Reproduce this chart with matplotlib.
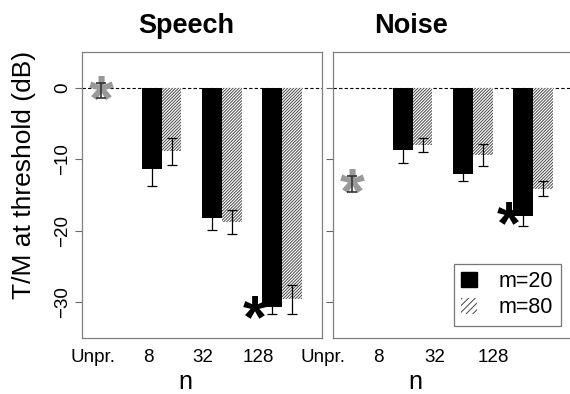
import numpy as np
import matplotlib.pyplot as plt
from matplotlib.patches import Patch

plt.rcParams['font.family'] = ['Liberation Sans', 'DejaVu Sans']
plt.rcParams['hatch.linewidth'] = 0.7

# data
groups = ['Unpr.', '8', '32', '128']
panels = ['Speech', 'Noise']

unpr_mean = [-0.4, -13.5]
unpr_err = [1.1, 1.1]

m20_mean = {'Speech': [-11.4, -18.25, -30.7], 'Noise': [-8.7, -12.1, -18.0]}
m20_err = {'Speech': [2.4, 1.65, 0.9], 'Noise': [1.8, 1.0, 1.3]}
m80_mean = {'Speech': [-8.9, -18.8, -29.6], 'Noise': [-8.0, -9.4, -14.1]}
m80_err = {'Speech': [1.9, 1.7, 2.0], 'Noise': [1.0, 1.6, 1.0]}

sig_x = [2.55, 2.59]
sig_y = [-31.0, -17.9]

yticks = [0, -10, -20, -30]

fig = plt.figure(figsize=(5.7, 3.94), dpi=100)
W, H = 570, 394

def fx(px):
    return px / W

def fy(py):
    return 1 - py / H

ax_left = [82, 333]
label_px = [[93, 148, 203, 258], [323, 378, 435, 493]]
title_px = [186, 411]
n_px = [185, 415]

w = 0.33
pos = np.arange(1, 4)

def star(ax, x, y, color, size):
    # the '*' glyph sits high in its box, push it down onto the point
    ax.annotate('*', (x, y), xytext=(0, -0.2 * size), textcoords='offset points',
                color=color, fontsize=size, fontweight='bold',
                ha='center', va='center', zorder=3)

for k, name in enumerate(panels):
    ax = fig.add_axes([fx(ax_left[k]), fy(338), 240 / W, 286 / H])
    ax.set_xlim(-0.32, 3.66)
    ax.set_ylim(-35, 5)
    ax.axhline(0, color='black', lw=0.8, ls=(0, (3, 2)), zorder=1)

    ax.bar(pos - w / 2, m20_mean[name], w, color='black', zorder=2)
    ax.bar(pos + w / 2, m80_mean[name], w, color='white', edgecolor='#4a4a4a',
           hatch='///////////', linewidth=0, zorder=2)
    ax.errorbar(pos - w / 2, m20_mean[name], yerr=m20_err[name], fmt='none',
                ecolor='black', elinewidth=0.9, capsize=3.5, capthick=0.9, zorder=3)
    ax.errorbar(pos + w / 2, m80_mean[name], yerr=m80_err[name], fmt='none',
                ecolor='black', elinewidth=0.9, capsize=3.5, capthick=0.9, zorder=3)

    # unprocessed reference
    star(ax, 0, unpr_mean[k], '#999999', 46)
    ax.errorbar([0], [unpr_mean[k]], yerr=[unpr_err[k]], fmt='none',
                ecolor='#333333', elinewidth=1.2, capsize=3.5, capthick=1.2, zorder=4)

    star(ax, sig_x[k], sig_y[k], 'black', 44)

    ax.set_xticks([])
    ax.set_yticks(yticks)
    ax.tick_params(axis='y', length=5, width=0.8, color='#666666', pad=3,
                   labelsize=13.5, labelrotation=90)
    for t in ax.get_yticklabels():
        t.set_va('center')
    if k == 1:
        ax.set_yticklabels([])
    for s in ax.spines.values():
        s.set_color('#808080')
        s.set_linewidth(0.9)

    for g, px in zip(groups, label_px[k]):
        fig.text(fx(px), fy(357), g, fontsize=13.5, ha='center', va='center')
    fig.text(fx(title_px[k]), fy(33), name, fontsize=19.5, fontweight='bold',
             ha='center', va='baseline')
    fig.text(fx(n_px[k]), fy(382), 'n', fontsize=18, ha='center', va='center')

    if k == 1:
        handles = [Patch(facecolor='black', edgecolor='black'),
                   Patch(facecolor='white', edgecolor='#444444', hatch='/////', linewidth=0)]
        leg = ax.legend(handles, ['m=20', 'm=80'], loc='lower right',
                        bbox_to_anchor=(0.95, 0.042), borderaxespad=0, fontsize=15.5,
                        frameon=True, fancybox=False, handlelength=0.75, handleheight=0.75,
                        handletextpad=1.0, borderpad=0.35, labelspacing=0.25)
        leg.get_frame().set_edgecolor('#555555')
        leg.get_frame().set_linewidth(0.9)

fig.text(fx(24), fy(175), 'T/M at threshold (dB)', fontsize=19, rotation=90,
         ha='center', va='center')

fig.savefig('out.png', dpi=100)
